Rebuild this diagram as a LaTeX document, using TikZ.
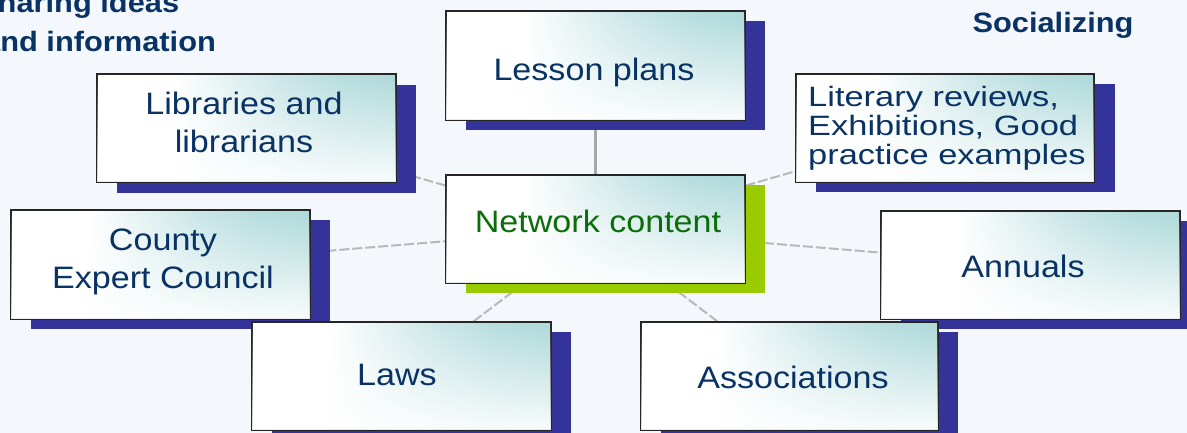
\documentclass[tikz,border=0pt]{standalone}
\usepackage{fontspec}
\setmainfont{Liberation Sans}
\newfontfamily\lblfont[FakeStretch=1.1]{Liberation Sans}
\newfontfamily\litfont[FakeStretch=1.23]{Liberation Sans}
\usetikzlibrary{fadings}
\definecolor{bgc}{HTML}{F4F8FC}
\definecolor{shblue}{HTML}{333399}
\definecolor{shgreen}{HTML}{99CC00}
\definecolor{navy}{HTML}{0A3365}
\definecolor{dgreen}{HTML}{0B6E0B}
\definecolor{boxcyan}{HTML}{AED9DA}
\definecolor{lineg}{HTML}{B8B8B8}
\pgfdeclarehorizontalshading{boxshade}{100bp}{color(0bp)=(white); color(25bp)=(white); color(38bp)=(white); color(46bp)=(boxcyan!30!white); color(56bp)=(boxcyan!65!white); color(66bp)=(boxcyan!90!white); color(75bp)=(boxcyan); color(100bp)=(boxcyan)}
\tikzfading[name=bottomwhite, top color=transparent!100, middle color=transparent!78, bottom color=transparent!8]
\pgfdeclarelayer{back}
\pgfdeclarelayer{lines}
\pgfsetlayers{back,lines,main}
\begin{document}
\begin{tikzpicture}[x=1pt,y=-1pt,
  shadowbox/.style={fill=shblue, draw=none, inner sep=0pt, outer sep=0pt, anchor=north west, minimum width=299pt, minimum height=108pt},
  greenshadow/.style={shadowbox, fill=shgreen},
  topicbox/.style={draw=black!85, line width=1.4pt, inner sep=0pt, outer sep=0pt, anchor=north west, minimum width=299pt, minimum height=108pt,
     shading=boxshade, postaction={fill=white, path fading=bottomwhite}},
  lbl/.style={text=navy, font=\lblfont\fontsize{31}{38}\selectfont, anchor=base, inner sep=0pt},
  lit/.style={text=navy, font=\litfont\fontsize{28}{29}\selectfont, anchor=base west, inner sep=0pt},
  sidecaption/.style={text=navy, font=\lblfont\bfseries\fontsize{28}{34}\selectfont, inner sep=0pt},
  conn/.style={draw=lineg, line width=2pt, dash pattern=on 10pt off 3pt},
  solidconn/.style={draw=lineg!90!black, line width=2.2pt}]
\useasboundingbox (0,0) rectangle (1187,433);
\begin{pgfonlayer}{back}
\fill[bgc] (0,0) rectangle (1187,433);
\end{pgfonlayer}
\clip (0,0) rectangle (1187,433);

% side captions
\node[sidecaption, anchor=base west] (share1) at (-23,13) {Sharing ideas};
\node[sidecaption, anchor=base west] (share2) at (-17,52) {and information};
\node[sidecaption, anchor=base] (social) at (1053,33) {Socializing};

% upper boxes
\node[shadowbox] (libS) at (117,85) {};
\node[topicbox] (lib) at (97,74) {};
\node[shadowbox, minimum height=109pt] (lesS) at (466,21) {};
\node[topicbox, minimum height=109pt] (les) at (446,11) {};
\node[shadowbox] (litS) at (816,84) {};
\node[topicbox, minimum width=298pt] (lit) at (796,74) {};

% middle
\node[greenshadow] (netS) at (466,185) {};
\node[topicbox] (net) at (446,175) {};
\node[shadowbox, minimum height=109pt] (couS) at (31,220) {};
\node[topicbox, minimum height=109pt] (cou) at (11,210) {};
\node[shadowbox] (annS) at (901,221) {};
\node[topicbox] (ann) at (881,211) {};

% lower
\node[shadowbox] (lawS) at (272,332) {};
\node[topicbox] (law) at (252,322) {};
\node[shadowbox, minimum width=297pt] (assS) at (661,332) {};
\node[topicbox, minimum width=297pt] (ass) at (641,322) {};

% connectors
\begin{pgfonlayer}{lines}
\draw[solidconn] (net.center) -- (les.center);
\draw[conn] (net.center) -- (lib.center);
\draw[conn] (net.center) -- (lit.center);
\draw[conn] (net.center) -- (cou.center);
\draw[conn] (net.center) -- (ann.center);
\draw[conn] (net.center) -- (law.center);
\draw[conn] (net.center) -- (ass.center);
\end{pgfonlayer}

% labels
\node[lbl] (lesT) at (594,81) {Lesson plans};
\node[lbl] (libT1) at (244,115) {Libraries and};
\node[lbl] (libT2) at (244,153) {librarians};
\node[lit] (litT1) at (808,107) {Literary reviews,};
\node[lit] (litT2) at (808,136) {Exhibitions, Good};
\node[lit] (litT3) at (808,165) {practice examples};
\node[lbl, text=dgreen] (netT) at (598,233) {Network content};
\node[lbl] (couT1) at (163,250) {County};
\node[lbl] (couT2) at (163,288) {Expert Council};
\node[lbl] (annT) at (1023,277) {Annuals};
\node[lbl] (lawT) at (397,385) {Laws};
\node[lbl] (assT) at (793,388) {Associations};
\end{tikzpicture}
\end{document}
